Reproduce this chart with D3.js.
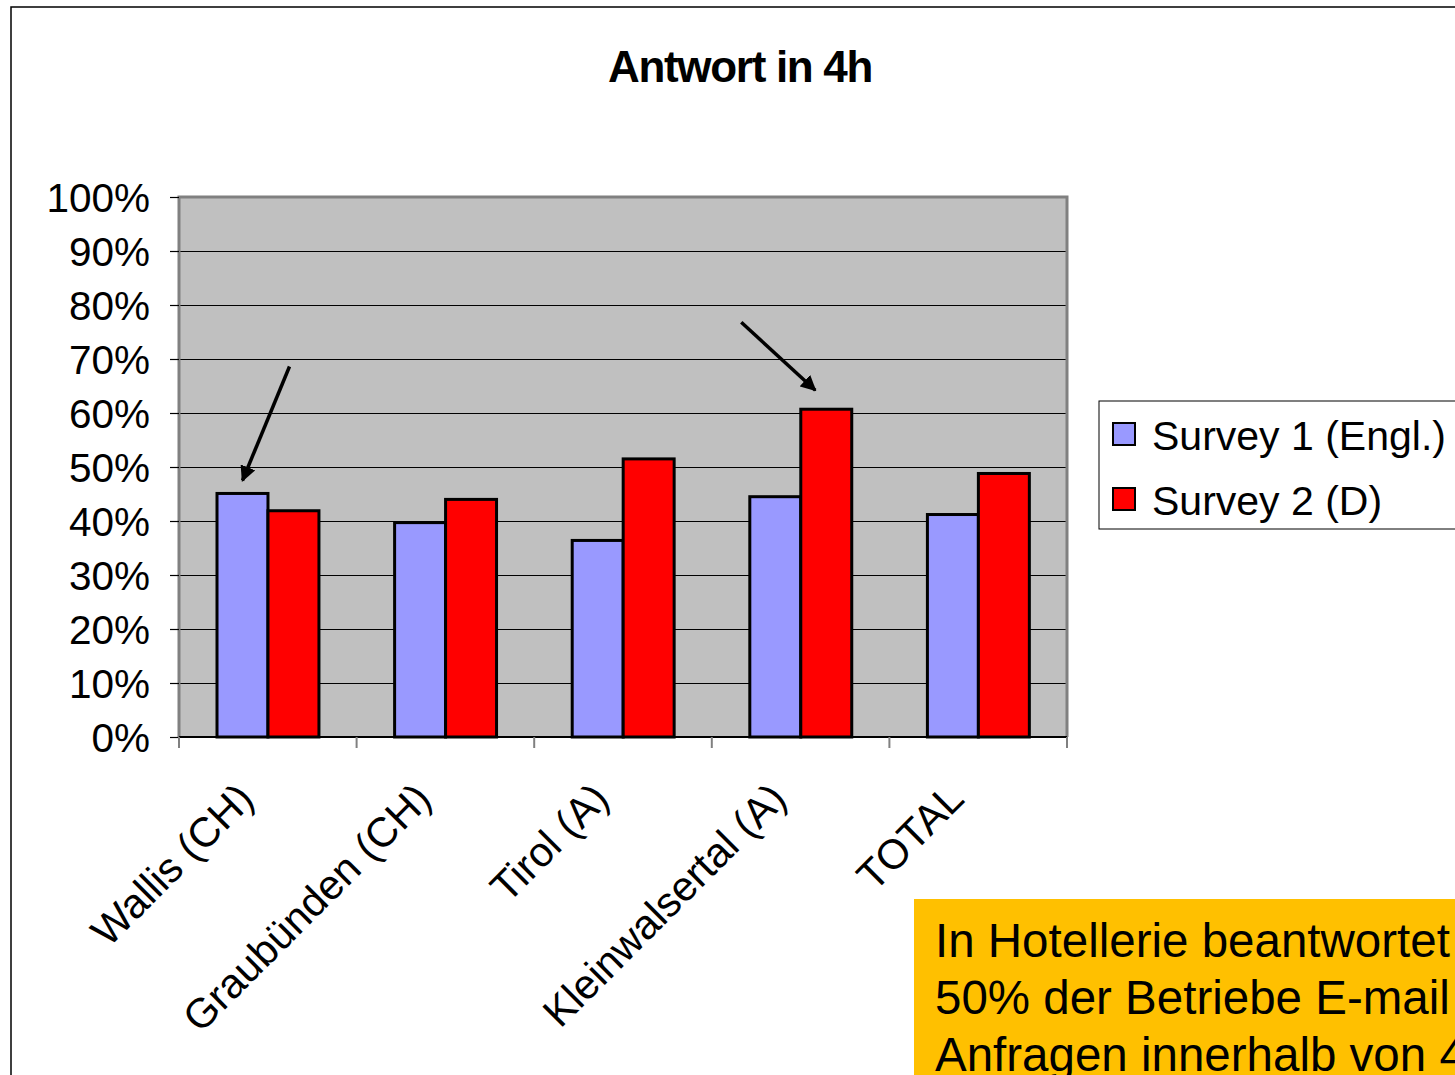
<!DOCTYPE html>
<html>
<head>
<meta charset="utf-8">
<script src="https://cdn.jsdelivr.net/npm/d3@7"></script>
<style>
  body { margin: 0; background: #fff; }
  svg { display: block; font-family: "Liberation Sans", Arial, sans-serif; }
</style>
</head>
<body>
<div id="chart"></div>
<script>
// data (percent)
var categories = ["Wallis (CH)", "Graubünden (CH)", "Tirol (A)", "Kleinwalsertal (A)", "TOTAL"];
var seriesNames = ["Survey 1 (Engl.)", "Survey 2 (D)"];
var survey1 = [45.1, 39.7, 36.4, 44.5, 41.2];
var survey2 = [41.9, 44.0, 51.5, 60.7, 48.8];
var yTicks = [0, 10, 20, 30, 40, 50, 60, 70, 80, 90, 100];
var titleText = "Antwort in 4h";
var noteLines = ["In Hotellerie beantwortet", "50% der Betriebe E-mail", "Anfragen innerhalb von 4h"];

var colors = ["#9999FF", "#FF0000"];

var width = 1455, height = 1075;
var margin = {top: 197, left: 179, right: 388, bottom: 338};
var chartW = width - margin.left - margin.right;
var chartH = height - margin.top - margin.bottom;

var svg = d3.select("#chart").append("svg")
  .attr("width", width)
  .attr("height", height);

// outer frame (runs off the right and bottom edges)
svg.append("path")
  .attr("d", "M11," + (height + 5) + "V7H" + (width + 5))
  .attr("fill", "none")
  .attr("stroke", "#000")
  .attr("stroke-width", 1.5);

svg.append("text")
  .attr("x", 740)
  .attr("y", 82)
  .attr("text-anchor", "middle")
  .style("font-size", "44px")
  .style("font-weight", "bold")
  .style("letter-spacing", "-1.3px")
  .text(titleText);

var xScale = d3.scaleBand().domain(categories).range([0, chartW]);
var bw = xScale.bandwidth();
var xInner = d3.scaleBand().domain(seriesNames).range([bw * 0.214, bw * 0.788]);
var yScale = d3.scaleLinear().domain([0, 100]).range([chartH, 0]);

var g = svg.append("g")
  .attr("transform", "translate(" + margin.left + "," + margin.top + ")");

g.append("rect")
  .attr("width", chartW)
  .attr("height", chartH)
  .attr("fill", "#C0C0C0");

// gridlines
g.append("g")
  .call(d3.axisLeft(yScale).tickValues(yTicks).tickSize(-chartW).tickFormat(""))
  .call(function(s) { s.select(".domain").remove(); })
  .selectAll("line")
    .attr("stroke", "#000")
    .attr("stroke-width", 1.2);

// bars
var rows = categories.map(function(c, i) {
  return {cat: c, values: [survey1[i], survey2[i]]};
});

var groups = g.selectAll(".group").data(rows).enter().append("g")
  .attr("class", "group")
  .attr("transform", function(d) { return "translate(" + xScale(d.cat) + ",0)"; });

groups.selectAll("rect")
  .data(function(d) { return d.values.map(function(v, j) { return {name: seriesNames[j], value: v, j: j}; }); })
  .enter().append("rect")
    .attr("x", function(d) { return xInner(d.name); })
    .attr("width", xInner.bandwidth())
    .attr("y", function(d) { return yScale(d.value); })
    .attr("height", function(d) { return chartH - yScale(d.value); })
    .attr("fill", function(d) { return colors[d.j]; })
    .attr("stroke", "#000")
    .attr("stroke-width", 3);

// plot border: gray top / left / right
g.append("path")
  .attr("d", "M0," + chartH + "V0H" + chartW + "V" + chartH)
  .attr("fill", "none")
  .attr("stroke", "#808080")
  .attr("stroke-width", 3);

// y axis
var yAxis = g.append("g")
  .call(d3.axisLeft(yScale).tickValues(yTicks).tickSize(9).tickPadding(20)
    .tickFormat(function(d) { return d + "%"; }));
yAxis.select(".domain").remove();
yAxis.selectAll("line").attr("stroke", "#000").attr("stroke-width", 1.2);
yAxis.selectAll("text")
  .attr("fill", "#000")
  .attr("dy", "0.36em")
  .style("font-size", "40.5px")
  .style("font-family", "'Liberation Sans', Arial, sans-serif");

// x axis line and ticks at category boundaries
g.append("line")
  .attr("x1", 0).attr("x2", chartW)
  .attr("y1", chartH).attr("y2", chartH)
  .attr("stroke", "#000")
  .attr("stroke-width", 2);

var bounds = categories.map(function(c) { return xScale(c); }).concat([xScale.range()[1]]);
g.selectAll(".xtick").data(bounds).enter().append("line")
  .attr("class", "xtick")
  .attr("x1", function(d) { return d; })
  .attr("x2", function(d) { return d; })
  .attr("y1", chartH)
  .attr("y2", chartH + 11)
  .attr("stroke", "#808080")
  .attr("stroke-width", 2);

g.selectAll(".xlabel").data(categories).enter().append("text")
  .attr("class", "xlabel")
  .attr("text-anchor", "end")
  .attr("transform", function(d) {
    return "translate(" + (xScale(d) + bw / 2 - 12) + "," + (chartH + 64) + ") rotate(-45)";
  })
  .style("font-size", "41.5px")
  .text(function(d) { return d; });

// arrows pointing at highlighted bars
var defs = svg.append("defs");
defs.append("marker")
  .attr("id", "head")
  .attr("viewBox", "0 0 10 10")
  .attr("refX", 9).attr("refY", 5)
  .attr("markerWidth", 4.5).attr("markerHeight", 4.5)
  .attr("orient", "auto")
  .attr("markerUnits", "strokeWidth")
  .append("path")
    .attr("d", "M0,0L10,5L0,10z")
    .attr("fill", "#000");

var arrows = [
  {cat: "Wallis (CH)", s: 0, dx: 0, dy: -13, tx: 47, ty: -114},
  {cat: "Kleinwalsertal (A)", s: 1, dx: -11, dy: -19, tx: -74, ty: -68}
];
g.selectAll(".arrow").data(arrows).enter().append("line")
  .attr("class", "arrow")
  .each(function(d) {
    var vals = d.s === 0 ? survey1 : survey2;
    var hx = xScale(d.cat) + xInner(seriesNames[d.s]) + xInner.bandwidth() / 2 + d.dx;
    var hy = yScale(vals[categories.indexOf(d.cat)]) + d.dy;
    d3.select(this)
      .attr("x1", hx + d.tx).attr("y1", hy + d.ty)
      .attr("x2", hx).attr("y2", hy);
  })
  .attr("stroke", "#000")
  .attr("stroke-width", 3.5)
  .attr("marker-end", "url(#head)");

// legend
var legend = svg.append("g").attr("transform", "translate(1099,401)");
legend.append("rect")
  .attr("width", 400)
  .attr("height", 128)
  .attr("fill", "#fff")
  .attr("stroke", "#000")
  .attr("stroke-width", 1);
var items = legend.selectAll(".item").data(seriesNames).enter().append("g")
  .attr("class", "item")
  .attr("transform", function(d, i) { return "translate(14," + (22 + i * 65) + ")"; });
items.append("rect")
  .attr("width", 22).attr("height", 22)
  .attr("fill", function(d, i) { return colors[i]; })
  .attr("stroke", "#000")
  .attr("stroke-width", 2);
items.append("text")
  .attr("x", 39)
  .attr("y", 27)
  .style("font-size", "41px")
  .text(function(d) { return d; });

// note box (cut by the page edge, as in the original slide)
var note = svg.append("g").attr("transform", "translate(914,899)");
note.append("rect")
  .attr("width", 600)
  .attr("height", 200)
  .attr("fill", "#FFC000");
note.selectAll("text").data(noteLines).enter().append("text")
  .attr("x", 21)
  .attr("y", function(d, i) { return 58 + i * 57; })
  .style("font-size", "47.5px")
  .text(function(d) { return d; });
</script>
</body>
</html>
